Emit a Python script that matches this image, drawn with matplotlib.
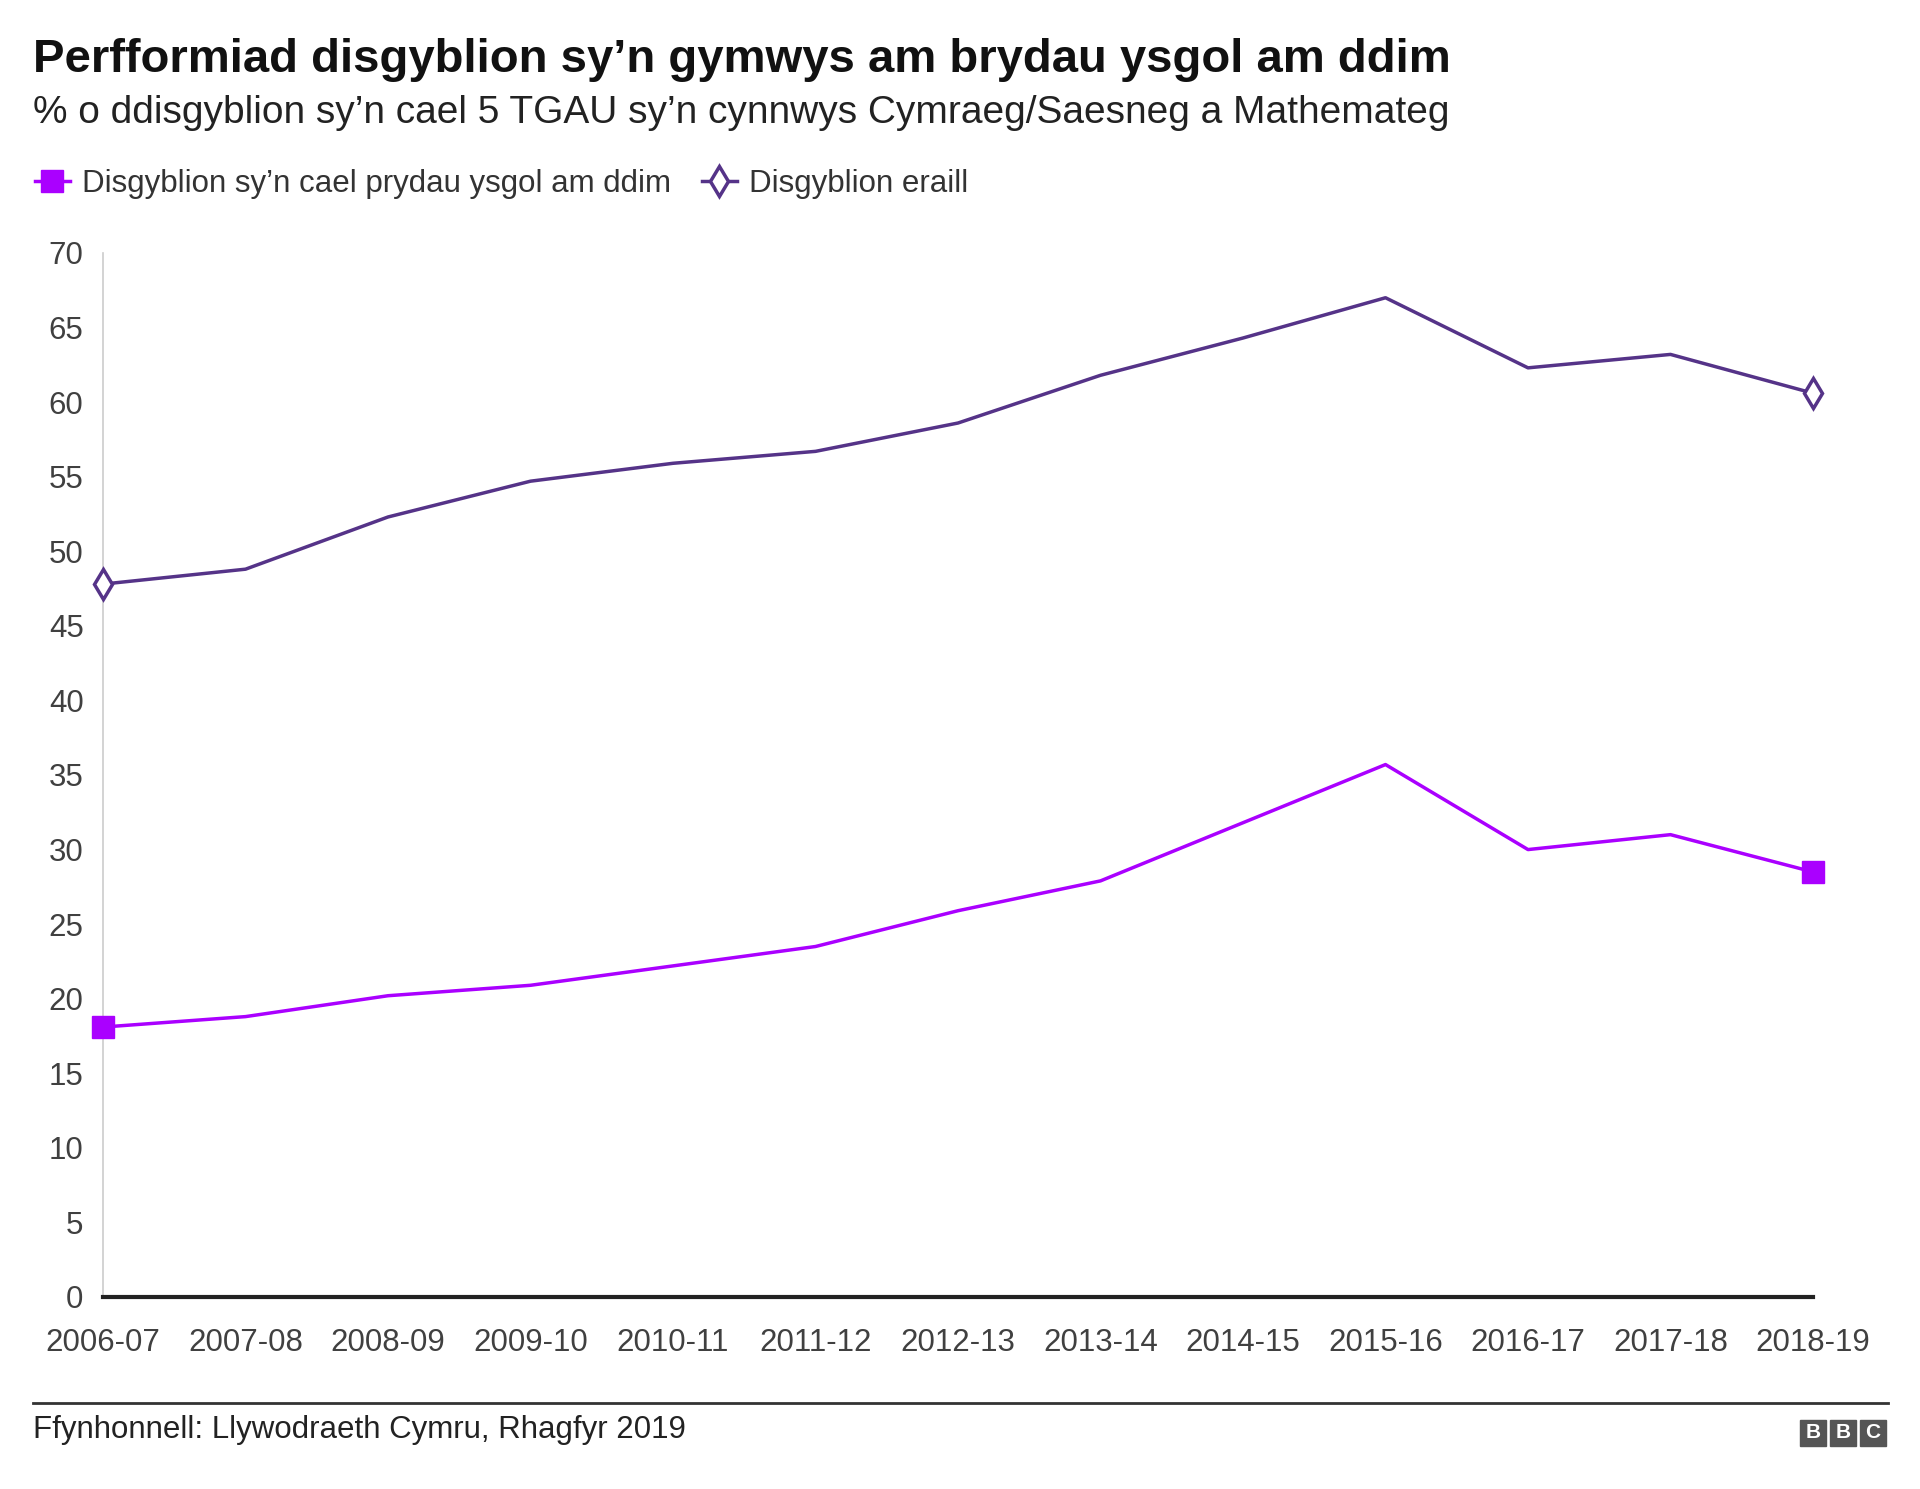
import matplotlib.pyplot as plt
from matplotlib.patches import Rectangle

plt.rcParams['font.family'] = ['Liberation Sans', 'DejaVu Sans']

# Dane
blynyddoedd = ['2006-07', '2007-08', '2008-09', '2009-10', '2010-11', '2011-12', '2012-13',
               '2013-14', '2014-15', '2015-16', '2016-17', '2017-18', '2018-19']
prydau_am_ddim = [18.1, 18.8, 20.2, 20.9, 22.2, 23.5, 25.9, 27.9, 31.8, 35.7, 30.0, 31.0, 28.5]
eraill = [47.8, 48.8, 52.3, 54.7, 55.9, 56.7, 58.6, 61.8, 64.3, 67.0, 62.3, 63.2, 60.6]
y_ticks = list(range(0, 75, 5))

lliw_fsm = '#AA00FF'
lliw_eraill = '#553388'

fig = plt.figure(figsize=(19.2, 14.89), dpi=100)
W, H = 1920, 1489
ax = fig.add_axes([103 / W, 1 - 1297 / H, (1813 - 103) / W, (1297 - 253) / H])

x = list(range(len(blynyddoedd)))
ax.plot(x, prydau_am_ddim, color=lliw_fsm, lw=2.5, marker='s', markersize=16,
        markevery=[0, len(x) - 1], clip_on=False, zorder=3,
        label="Disgyblion sy\u2019n cael prydau ysgol am ddim")
ax.plot(x, eraill, color=lliw_eraill, lw=2.5, marker='d', markersize=15, mew=2.5,
        mfc='white', markevery=[0, len(x) - 1], clip_on=False, zorder=3,
        label='Disgyblion eraill')

ax.set_xlim(0, len(x) - 1)
ax.set_ylim(0, 70)
ax.set_yticks(y_ticks)
ax.set_xticks(x)
ax.set_xticklabels(blynyddoedd)
ax.tick_params(axis='both', length=0, labelsize=22.5, labelcolor='#404040')
ax.tick_params(axis='x', pad=22)
ax.tick_params(axis='y', pad=14)
for s in ['top', 'right']:
    ax.spines[s].set_visible(False)
ax.spines['left'].set_color('#cccccc')
ax.spines['left'].set_linewidth(1.2)
ax.spines['bottom'].set_color('#222222')
ax.spines['bottom'].set_linewidth(3)

# Teitlau
fig.text(33 / W, 1 - 60 / H, "Perfformiad disgyblion sy\u2019n gymwys am brydau ysgol am ddim",
         fontsize=34, fontweight='bold', va='center', color='#111111')
fig.text(33 / W, 1 - 113 / H, "% o ddisgyblion sy\u2019n cael 5 TGAU sy\u2019n cynnwys Cymraeg/Saesneg a Mathemateg",
         fontsize=28, va='center', color='#222222')

leg = fig.legend(loc='center left', bbox_to_anchor=(7 / W, 1 - 184 / H), ncol=2, frameon=False,
                 fontsize=22.5, handlelength=1.1, handletextpad=0.4, columnspacing=1.0)
for t in leg.get_texts():
    t.set_color('#333333')

# Troednodyn
fig.add_artist(plt.Line2D([33 / W, 1888 / W], [1 - 1403 / H, 1 - 1403 / H], color='#333333', lw=2))
fig.text(33 / W, 1 - 1430 / H, "Ffynhonnell: Llywodraeth Cymru, Rhagfyr 2019",
         fontsize=22.5, va='center', color='#222222')
for i, ch in enumerate('BBC'):
    x0 = 1800 + i * 30
    fig.add_artist(Rectangle((x0 / W, 1 - 1446 / H), 26 / W, 26 / H, color='#555555',
                             transform=fig.transFigure))
    fig.text((x0 + 13) / W, 1 - 1433 / H, ch, fontsize=15, fontweight='bold', color='white',
             ha='center', va='center')

fig.savefig('out.png', dpi=100, facecolor='white')
